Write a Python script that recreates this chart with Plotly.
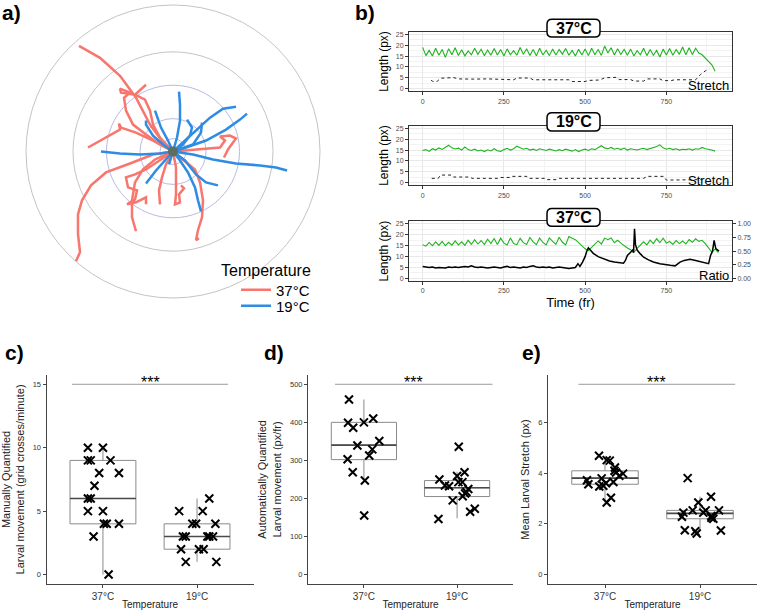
import plotly.graph_objects as go

W, H = 760, 610
def fx(p): return p / W
def fy(p): return 1 - p / H

FONT = "Liberation Sans, Arial, sans-serif"
RED = "#F8766D"
BLUE = "#2F8CE3"
GREEN = "#1DB41D"

# ---------------- panel a: larval tracks (offsets from start point) ----------------
TEMPS = ["37°C", "19°C"]
RED_TRACKS = [
    [(0,0),(-10,9),(-23,27),(-37,54),(-53,76),(-73,94),(-94,106)],
    [(0,0),(-20,-3),(-43,-12),(-67,-21),(-82,-34),(-91,-49),(-95,-63),(-95,-83),(-93,-101),(-97,-110)],
    [(0,0),(-13,7),(-27,17),(-40,27),(-47,41),(-49,54),(-43,59),(-53,63),(-52,59),(-38,57),(-27,67)],
    [(-85,4),(-67,14),(-53,22),(-54,28),(-52,24),(-37,19),(-20,11),(0,0)],
    [(-38,57),(-28,52),(-23,41),(-20,27),(-13,14),(0,0)],
    [(0,0),(20,2),(37,3),(47,4),(52,11),(47,15),(57,16),(63,13),(60,9),(55,2),(51,-6)],
    [(0,0),(-13,-9),(-27,-18),(-38,-23),(-47,-26),(-45,-36),(-36,-39),(-38,-48),(-46,-53),(-37,-51),(-27,-46),(-27,-53)],
    [(0,0),(-7,-13),(-11,-26),(-14,-39),(-13,-53)],
    [(0,0),(3,-16),(3,-31),(3,-43),(2,-53),(7,-51),(6,-43),(11,-37),(8,-34)],
    [(0,0),(12,-10),(22,-18),(27,-31),(30,-49),(29,-66),(25,-79),(23,-89),(26,-87)],
    [(0,0),(-18,-8),(-30,-18),(-38,-31),(-41,-49),(-41,-66),(-37,-80)],
]
BLUE_TRACKS = [
    [(0,0),(-13,-2),(-33,-3),(-53,-2),(-72,0)],
    [(0,0),(20,-3),(40,-8),(63,-12),(87,-14),(103,-16),(114,-19)],
    [(0,0),(13,4),(33,11),(53,22),(67,32),(74,38)],
    [(0,0),(10,9),(23,21),(37,34),(50,43),(63,45)],
    [(0,0),(4,14),(7,31),(7,47),(6,60)],
    [(0,0),(-5,11),(-12,24),(-18,41)],
    [(0,0),(7,-9),(15,-21),(22,-36),(25,-49),(28,-60)],
    [(0,0),(12,-9),(23,-23),(33,-31),(45,-34)],
    [(0,0),(-7,-8),(-17,-19),(-27,-32)],
    [(0,0),(10,7),(17,16),(19,24),(14,32)],
    [(0,0),(20,7),(28,19),(29,29)],
    [(0,0),(-10,7),(-20,16),(-27,27),(-27,31)],
    [(0,0),(-2,-8),(-4,-13)],
]
POLAR_RADII = [13, 33, 66.5, 100, 147]

# ---------------- panel b: time series ----------------
FRAMES = list(range(0, 901, 10))
LEN_37A = [
    19.0, 15.2, 17.6, 15.0, 18.6, 15.4, 18.0, 14.4, 18.4, 15.6,
    18.8, 15.3, 17.9, 15.1, 17.4, 15.6, 18.6, 15.8, 18.1, 15.2,
    17.8, 15.4, 18.5, 15.5, 18.0, 15.0, 18.3, 15.6, 17.5, 15.4,
    18.9, 15.8, 18.4, 15.3, 18.0, 15.1, 18.6, 15.5, 17.7, 15.2,
    18.2, 15.5, 18.0, 15.9, 18.5, 15.4, 17.6, 15.0, 18.1, 15.5,
    18.3, 15.2, 18.6, 15.6, 18.0, 15.3, 19.6, 16.4, 18.8, 15.5,
    18.4, 15.7, 18.1, 15.4, 18.2, 15.0, 17.5, 15.6, 18.6, 15.2,
    18.0, 15.4, 17.6, 14.6, 18.2, 15.5, 18.5, 15.4, 18.0, 15.8,
    19.2, 15.6, 18.8, 15.7, 18.6, 16.4, 15.6, 14.2, 12.6, 11.0,
    8.0]
STRETCH_37A_FR = [26, 30, 45, 55, 95, 110, 150, 200, 280, 290, 330, 340, 450, 460, 500, 510, 545, 560, 595,
                  605, 640, 650, 680, 690, 730, 740, 765, 775, 840, 855, 870, 882]
STRETCH_37A = [4.0, 3.4, 3.4, 4.8, 5.1, 4.5, 4.4, 4.5, 4.1, 4.9, 4.9, 4.1, 4.1, 3.3, 3.3, 3.8, 4.0, 5.0, 5.2,
               4.2, 4.2, 3.5, 3.5, 4.5, 4.5, 3.7, 3.7, 4.1, 4.1, 6.5, 8.2, 9.0]

LEN_19 = [
    14.8, 15.2, 14.4, 15.6, 15.0, 16.0, 15.3, 16.2, 17.2, 16.0,
    15.5, 15.9, 15.0, 16.4, 15.2, 14.8, 15.4, 14.6, 15.0, 14.3,
    15.1, 14.6, 15.6, 14.7, 14.4, 15.2, 15.8, 15.0, 15.6, 16.8,
    16.2, 15.4, 15.8, 15.0, 15.4, 14.8, 15.6, 15.2, 14.8, 15.4,
    15.0, 14.6, 15.2, 14.7, 15.4, 15.0, 14.5, 15.2, 14.3, 15.0,
    15.4, 14.8, 15.6, 15.2, 16.2, 17.0, 16.0, 15.6, 16.2, 15.4,
    15.8, 15.2, 15.9, 15.0, 15.6, 15.3, 15.0, 15.5, 15.8, 15.2,
    15.6, 16.2, 16.6, 17.4, 16.0, 15.4, 15.8, 15.2, 15.6, 15.0,
    15.4, 15.2, 15.6, 15.0, 15.6, 15.4, 16.2, 15.6, 15.4, 15.0,
    14.5]
STRETCH_19_FR = [28, 48, 55, 89, 95, 146, 152, 233, 240, 269, 275, 321, 328, 377, 383, 413, 420, 495, 500,
                 578, 584, 680, 691, 742, 750, 763, 770, 860]
STRETCH_19 = [2.0, 2.0, 3.5, 3.5, 2.6, 2.6, 2.0, 2.0, 2.4, 2.4, 2.9, 2.9, 2.0, 2.0, 1.4, 1.4, 2.0, 2.0, 2.3,
              2.3, 2.0, 2.0, 2.9, 2.9, 1.2, 1.2, 1.4, 1.4]

FRAMES_B3 = list(range(0, 911, 10))
LEN_37B = [
    15.5, 14.8, 16.5, 15.0, 16.8, 15.2, 17.0, 15.0, 16.6, 15.3,
    17.2, 15.4, 16.8, 15.2, 17.5, 15.6, 17.8, 15.8, 17.4, 15.5,
    18.0, 16.0, 18.3, 15.6, 18.5, 16.2, 15.4, 18.6, 16.0, 15.5,
    18.4, 16.4, 15.6, 18.8, 16.8, 15.5, 18.5, 16.5, 15.4, 18.6,
    17.0, 15.6, 18.9, 16.6, 15.4, 19.2, 18.4, 17.8, 16.4, 14.8,
    13.6, 12.8, 14.2, 15.6, 17.2, 15.8, 18.5, 17.8, 18.6, 16.4,
    17.5, 16.2, 15.0, 14.0, 13.2, 12.0, 13.8, 15.2, 16.8, 15.4,
    17.6, 16.0, 18.2, 16.4, 18.5, 16.2, 17.0, 15.6, 17.4, 16.0,
    17.2, 15.8, 17.8, 16.6, 18.2, 17.0, 17.5, 16.0, 14.2, 12.0,
    13.5, 11.8]
RATIO_FR = [0, 10, 20, 30, 40, 50, 60, 70, 80, 90, 100, 110, 120, 130, 140, 150, 160, 170, 180, 190,
            200, 210, 220, 230, 240, 250, 260, 270, 280, 290, 300, 310, 320, 330, 340, 350, 360, 370, 380, 390,
            400, 410, 420, 430, 440, 450, 460, 470, 478, 484, 492, 500, 505, 510, 516, 525, 540, 557, 575, 590,
            605, 618, 624, 630, 640, 646, 649, 652, 655, 660, 670, 680, 695, 710, 730, 745, 762, 777, 792, 805,
            823, 840, 855, 864, 880, 886, 892, 897, 902, 908, 912]
RATIO = [0.22, 0.21, 0.20, 0.21, 0.19, 0.20, 0.20, 0.19, 0.21, 0.20, 0.21, 0.20, 0.21, 0.22, 0.21, 0.23, 0.21, 0.20, 0.21, 0.20,
         0.19, 0.20, 0.21, 0.20, 0.19, 0.21, 0.22, 0.20, 0.21, 0.20, 0.19, 0.21, 0.20, 0.22, 0.23, 0.21, 0.20, 0.21, 0.20, 0.21,
         0.19, 0.20, 0.21, 0.20, 0.19, 0.18, 0.19, 0.20, 0.27, 0.22, 0.30, 0.40, 0.50, 0.56, 0.52, 0.46, 0.40, 0.36, 0.32, 0.30,
         0.29, 0.28, 0.33, 0.42, 0.48, 0.52, 0.47, 0.91, 0.62, 0.52, 0.45, 0.39, 0.34, 0.30, 0.27, 0.25, 0.24, 0.23, 0.30, 0.33,
         0.35, 0.33, 0.31, 0.30, 0.27, 0.42, 0.50, 0.70, 0.55, 0.52, 0.50]

# ---------------- panels c, d, e: box plots ----------------
CAT_POS = [1, 2]
C_37_OFF = [-0.16, 0.0, -0.16, -0.13, 0.08, -0.04, 0.17, -0.09, -0.16, -0.13, -0.16, 0.0, 0.01, 0.04, 0.17, -0.10, 0.06]
C_37_VAL = [10, 10, 9, 9, 9, 8, 8, 7, 6, 6, 5, 5, 4, 4, 4, 3, 0]
C_19_OFF = [-0.19, 0.06, 0.13, -0.05, -0.01, 0.195, -0.15, -0.12, 0.11, 0.13, 0.17, -0.17, 0.02, 0.07, -0.12, 0.205]
C_19_VAL = [5, 5, 6, 4, 4, 4, 3, 3, 3, 3, 3, 2, 2, 2, 1, 1]
C_BOX = dict(q1=[4, 2], median=[6, 3], q3=[9, 4], lowerfence=[0, 1], upperfence=[10, 6])

D_37_OFF = [-0.16, -0.17, -0.115, 0.0, 0.10, -0.07, 0.165, 0.09, 0.057, -0.175, -0.12, 0.01, 0.003]
D_37_VAL = [460, 399, 386, 400, 410, 339, 351, 329, 313, 303, 269, 247, 155]
D_19_OFF = [0.018, -0.19, -0.13, -0.086, 0.0, 0.014, 0.08, 0.057, -0.047, 0.12, 0.10, 0.06, 0.086, 0.19, 0.14, -0.2]
D_19_VAL = [336, 250, 234, 232, 259, 243, 269, 243, 195, 225, 217, 206, 213, 173, 165, 146]
D_BOX = dict(q1=[302, 205], median=[340, 228], q3=[400, 247], lowerfence=[247, 148], upperfence=[460, 270])

E_37_OFF = [-0.063, 0.018, 0.05, 0.105, 0.10, 0.116, 0.19, 0.15, -0.19, -0.175, -0.035, -0.06, -0.018, 0.01, 0.088, 0.063, 0.018]
E_37_VAL = [4.68, 4.51, 4.49, 4.22, 4.09, 4.02, 3.98, 3.89, 3.72, 3.56, 3.79, 3.47, 3.50, 3.60, 3.65, 3.03, 2.84]
E_19_OFF = [-0.13, 0.116, -0.018, -0.077, -0.175, -0.19, 0.06, 0.2, 0.035, 0.12, 0.14, 0.12, -0.16, -0.05, -0.035, 0.22]
E_19_VAL = [3.80, 3.07, 2.84, 2.53, 2.44, 2.28, 2.53, 2.53, 2.44, 2.31, 2.20, 2.24, 1.75, 1.71, 1.62, 1.74]
E_BOX = dict(q1=[3.56, 2.20], median=[3.80, 2.41], q3=[4.09, 2.53], lowerfence=[2.84, 1.71], upperfence=[4.68, 3.07])

SIG_C = dict(x=[0.67, 2.33], y=[15, 15])
SIG_D = dict(x=[0.69, 2.38], y=[500, 500])
SIG_E = dict(x=[0.72, 2.37], y=[7.5, 7.5])

fig = go.Figure()

# ---- panel a traces
for i, tr in enumerate(RED_TRACKS):
    fig.add_trace(go.Scatter(x=[p[0] for p in tr], y=[p[1] for p in tr], mode="lines",
                             line=dict(color=RED, width=2.5), name=TEMPS[0], legendgroup="37",
                             legend="legend", showlegend=(i == 0), xaxis="x", yaxis="y", hoverinfo="skip"))
for i, tr in enumerate(BLUE_TRACKS):
    fig.add_trace(go.Scatter(x=[p[0] for p in tr], y=[p[1] for p in tr], mode="lines",
                             line=dict(color=BLUE, width=2.5), name=TEMPS[1], legendgroup="19",
                             legend="legend2", showlegend=(i == 0), xaxis="x", yaxis="y", hoverinfo="skip"))
fig.add_trace(go.Scatter(x=[0], y=[0], mode="markers", marker=dict(color="#5b6e5f", size=10),
                         showlegend=False, xaxis="x", yaxis="y", hoverinfo="skip"))

shapes = []
for r in POLAR_RADII:
    col = "#c4c4c4" if r >= 100 else "#b7bbe2"
    shapes.append(dict(type="circle", xref="x", yref="y", x0=-r, x1=r, y0=-r, y1=r,
                       line=dict(color=col, width=1), layer="below"))

# ---- panel b traces
fig.add_trace(go.Scatter(x=FRAMES, y=LEN_37A, mode="lines", line=dict(color=GREEN, width=1.1),
                         showlegend=False, xaxis="x2", yaxis="y2"))
fig.add_trace(go.Scatter(x=STRETCH_37A_FR, y=STRETCH_37A, mode="lines", line=dict(color="#222", width=1, dash="dot"),
                         showlegend=False, xaxis="x2", yaxis="y2"))
fig.add_trace(go.Scatter(x=FRAMES, y=LEN_19, mode="lines", line=dict(color=GREEN, width=1.1),
                         showlegend=False, xaxis="x3", yaxis="y3"))
fig.add_trace(go.Scatter(x=STRETCH_19_FR, y=STRETCH_19, mode="lines", line=dict(color="#222", width=1, dash="dot"),
                         showlegend=False, xaxis="x3", yaxis="y3"))
fig.add_trace(go.Scatter(x=FRAMES_B3, y=LEN_37B, mode="lines", line=dict(color=GREEN, width=1.1),
                         showlegend=False, xaxis="x4", yaxis="y4"))
fig.add_trace(go.Scatter(x=RATIO_FR, y=RATIO, mode="lines", line=dict(color="black", width=1.5),
                         showlegend=False, xaxis="x4", yaxis="y5"))

# ---- panels c/d/e traces
def box_panel(xa, ya, box, o37, v37, o19, v19, sig):
    fig.add_trace(go.Box(x=CAT_POS, q1=box["q1"], median=box["median"], q3=box["q3"],
                         lowerfence=box["lowerfence"], upperfence=box["upperfence"],
                         width=0.7, whiskerwidth=0, boxpoints=False,
                         line=dict(color="#8a8a8a", width=1), fillcolor="rgba(255,255,255,0)",
                         showlegend=False, xaxis=xa, yaxis=ya, hoverinfo="skip"))
    for c, m in zip(CAT_POS, box["median"]):
        fig.add_trace(go.Scatter(x=[c - 0.35, c + 0.35], y=[m, m], mode="lines",
                                 line=dict(color="#4a4a4a", width=1.6), showlegend=False,
                                 xaxis=xa, yaxis=ya, hoverinfo="skip"))
    for c, offs, vals in ((CAT_POS[0], o37, v37), (CAT_POS[1], o19, v19)):
        fig.add_trace(go.Scatter(x=[c + o for o in offs], y=vals, mode="markers",
                                 marker=dict(symbol="x-thin", size=8, line=dict(width=2, color="black")),
                                 showlegend=False, xaxis=xa, yaxis=ya, hoverinfo="skip"))
    fig.add_trace(go.Scatter(x=sig["x"], y=sig["y"], mode="lines", line=dict(color="#9a9a9a", width=1),
                             showlegend=False, xaxis=xa, yaxis=ya, hoverinfo="skip"))

box_panel("x5", "y6", C_BOX, C_37_OFF, C_37_VAL, C_19_OFF, C_19_VAL, SIG_C)
box_panel("x6", "y7", D_BOX, D_37_OFF, D_37_VAL, D_19_OFF, D_19_VAL, SIG_D)
box_panel("x7", "y8", E_BOX, E_37_OFF, E_37_VAL, E_19_OFF, E_19_VAL, SIG_E)

# ---- axes
def b_x(anchor, dom_title=None):
    d = dict(domain=[fx(409), fx(732)], range=[-42, 952], anchor=anchor, tickvals=[0, 250, 500, 750],
             ticks="outside", ticklen=3, tickcolor="#333333", tickfont=dict(size=7, color="#4d4d4d"),
             showgrid=True, gridcolor="#e8e8e8", gridwidth=0.8,
             minor=dict(tickvals=[125, 375, 625, 875], showgrid=True, gridcolor="#f3f3f3", gridwidth=0.6),
             showline=True, linecolor="#333333", linewidth=1, mirror=True, zeroline=False)
    if dom_title:
        d["title"] = dict(text=dom_title, font=dict(size=13, color="black"), standoff=4)
    return d

def b_y(anchor, top, bottom):
    return dict(domain=[fy(bottom), fy(top)], range=[-1.25, 26.25], anchor=anchor,
                tickvals=[0, 5, 10, 15, 20, 25], ticks="outside", ticklen=3, tickcolor="#333333",
                tickfont=dict(size=7, color="#4d4d4d"), showgrid=True, gridcolor="#e8e8e8", gridwidth=0.8,
                minor=dict(tickvals=[2.5, 7.5, 12.5, 17.5, 22.5], showgrid=True, gridcolor="#f3f3f3", gridwidth=0.6),
                showline=True, linecolor="#333333", linewidth=1, mirror=True, zeroline=False,
                title=dict(text="Length (px)", font=dict(size=12, color="black"), standoff=4))

def box_x(anchor, left, right):
    return dict(domain=[fx(left), fx(right)], range=[0.4, 2.6], anchor=anchor, tickvals=CAT_POS, ticktext=TEMPS,
                ticks="outside", ticklen=3, tickcolor="#444444", tickfont=dict(size=10, color="#333333"),
                showline=True, linecolor="#444444", linewidth=1, showgrid=False, zeroline=False,
                title=dict(text="Temperature", font=dict(size=10, color="#222222"), standoff=0))

def box_y(anchor, rng, tv, title, size=11):
    return dict(domain=[fy(585), fy(375)], range=rng, anchor=anchor, tickvals=tv,
                ticks="outside", ticklen=3, tickcolor="#444444", tickfont=dict(size=7.5, color="#333333"),
                showline=True, linecolor="#444444", linewidth=1, showgrid=False, zeroline=False,
                title=dict(text=title, font=dict(size=size, color="#222222"), standoff=6))

layout = dict(
    width=W, height=H, margin=dict(l=0, r=0, t=0, b=0),
    paper_bgcolor="white", plot_bgcolor="white",
    font=dict(family=FONT, color="black"),
    xaxis=dict(domain=[0, fx(350)], range=[-173, 177], visible=False, anchor="y"),
    yaxis=dict(domain=[fy(310), 1], range=[-159, 151], visible=False, anchor="x"),
    xaxis2=b_x("y2"), yaxis2=b_y("x2", 30.7, 90.7),
    xaxis3=b_x("y3"), yaxis3=b_y("x3", 125, 185),
    xaxis4=b_x("y4", "Time (fr)"), yaxis4=b_y("x4", 221, 281),
    yaxis5=dict(overlaying="y4", side="right", anchor="x4", range=[-0.05, 1.05],
                tickvals=[0, 0.25, 0.5, 0.75, 1.0], ticktext=["0.00", "0.25", "0.50", "0.75", "1.00"],
                ticks="outside", ticklen=3, tickcolor="#333333", tickfont=dict(size=7, color="#4d4d4d"),
                showgrid=False, zeroline=False, showline=False),
    xaxis5=box_x("y6", 46.5, 253.5),
    yaxis6=box_y("x5", [-0.75, 15.75], [0, 5, 10, 15],
                 "Manually Quantified<br>Larval movement (grid crosses/minute)"),
    xaxis6=box_x("y7", 308, 513),
    yaxis7=box_y("x6", [-25, 525], [0, 100, 200, 300, 400, 500],
                 "Automatically Quantified<br>Larval movement (px/fr)"),
    xaxis7=box_x("y8", 548, 757),
    yaxis8=box_y("x7", [-0.375, 7.875], [0, 2, 4, 6], "Mean Larval Stretch (px)"),
    legend=dict(x=fx(236), y=fy(290), xanchor="left", yanchor="middle", font=dict(size=15),
                bgcolor="rgba(0,0,0,0)", tracegroupgap=0, itemwidth=30),
    legend2=dict(x=fx(236), y=fy(306), xanchor="left", yanchor="middle", font=dict(size=15),
                 bgcolor="rgba(0,0,0,0)", tracegroupgap=0, itemwidth=30),
    showlegend=True,
)

# rounded facet label boxes
def rrect(x0, y0, x1, y1, r):
    return (f"M {fx(x0+r)},{fy(y0)} L {fx(x1-r)},{fy(y0)} Q {fx(x1)},{fy(y0)} {fx(x1)},{fy(y0+r)} "
            f"L {fx(x1)},{fy(y1-r)} Q {fx(x1)},{fy(y1)} {fx(x1-r)},{fy(y1)} "
            f"L {fx(x0+r)},{fy(y1)} Q {fx(x0)},{fy(y1)} {fx(x0)},{fy(y1-r)} "
            f"L {fx(x0)},{fy(y0+r)} Q {fx(x0)},{fy(y0)} {fx(x0+r)},{fy(y0)} Z")

FACETS = [("37°C", 18.3, 36.0), ("19°C", 112.0, 130.5), ("37°C", 208.3, 226.0)]
annotations = []
for lab, t, b in FACETS:
    shapes.append(dict(type="path", xref="paper", yref="paper", path=rrect(547, t, 600, b, 5),
                       fillcolor="white", line=dict(color="black", width=1.5), layer="above"))
    annotations.append(dict(text=f"<b>{lab}</b>", x=fx(573.5), y=fy((t + b) / 2), xref="paper", yref="paper",
                            showarrow=False, font=dict(size=16, color="black"), xanchor="center", yanchor="middle"))

for lab, yc in (("Stretch", 85), ("Stretch", 180), ("Ratio", 275)):
    annotations.append(dict(text=lab, x=fx(731), y=fy(yc), xref="paper", yref="paper", showarrow=False,
                            font=dict(size=13, color="black"), xanchor="right", yanchor="middle"))

for xa, ya, sig in (("x5", "y6", SIG_C), ("x6", "y7", SIG_D), ("x7", "y8", SIG_E)):
    annotations.append(dict(text="***", x=sum(sig["x"]) / 2, y=sig["y"][0], xref=xa, yref=ya, showarrow=False,
                            font=dict(size=16, color="black"), yanchor="middle", yshift=2))

annotations.append(dict(text="Temperature", x=fx(219), y=fy(270), xref="paper", yref="paper", showarrow=False,
                        font=dict(size=16, color="black"), xanchor="left", yanchor="middle"))

for lab, xl, yc in (("a)", 0, 12), ("b)", 353, 12), ("c)", 3, 353), ("d)", 262, 353), ("e)", 520, 353)):
    annotations.append(dict(text=f"<b>{lab}</b>", x=fx(xl), y=fy(yc), xref="paper", yref="paper", showarrow=False,
                            font=dict(size=21, color="black"), xanchor="left", yanchor="middle"))

layout["shapes"] = shapes
layout["annotations"] = annotations
fig.update_layout(layout)
fig.write_html("out.html", config={"displayModeBar": False},
               post_script="document.body.style.margin='0px';document.body.style.overflow='hidden';")
